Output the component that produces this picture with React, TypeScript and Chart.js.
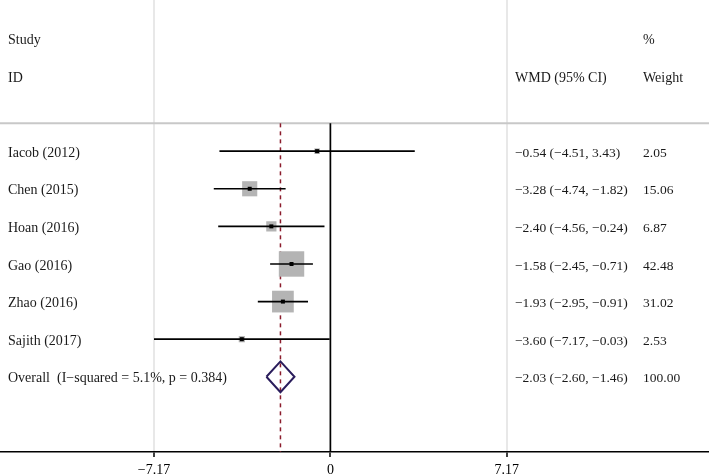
import React, { useEffect, useRef } from "react";
import { Chart, registerables } from "chart.js";

Chart.register(...registerables);

const studies = ["Iacob (2012)", "Chen (2015)", "Hoan (2016)", "Gao (2016)", "Zhao (2016)", "Sajith (2017)"];
const wmd = [-0.54, -3.28, -2.4, -1.58, -1.93, -3.6];
const lower = [-4.51, -4.74, -4.56, -2.45, -2.95, -7.17];
const upper = [3.43, -1.82, -0.24, -0.71, -0.91, -0.03];
const weights = [2.05, 15.06, 6.87, 42.48, 31.02, 2.53];

const overallLabel = "Overall  (I\u2212squared = 5.1%, p = 0.384)";
const overallEst = -2.03;
const overallLo = -2.6;
const overallHi = -1.46;
const overallWeight = 100.0;

const xTicks = [-7.17, 0, 7.17];
const headerStudy = ["Study", "ID"];
const headerEffect = "WMD (95% CI)";
const headerWeight = ["%", "Weight"];

const SERIF = "'Liberation Serif', 'Times New Roman', serif";

const fmt = (v: number) => (v < 0 ? "\u2212" : "") + Math.abs(v).toFixed(2);
const ciText = (e: number, l: number, u: number) => `${fmt(e)} (${fmt(l)}, ${fmt(u)})`;

// layout constants (row coordinates)
const ROW_HEADER1 = -3;
const ROW_HEADER2 = -2;
const ROW_SEP = -0.74;
const ROW_OVERALL = studies.length;
const Y_MIN = -4.02;
const Y_MAX = 8;
const X_MIN = -13.43;
const X_MAX = 15.39;

const textPlugin = {
  id: "forestText",
  afterDatasetsDraw(chart: any) {
    const { ctx, scales } = chart;
    const y = scales.y;
    const yp = (v: number) => y.getPixelForValue(v) + 2;
    ctx.save();
    ctx.fillStyle = "#1a1a1a";
    ctx.textBaseline = "middle";
    ctx.textAlign = "left";
    const colStudy = 8;
    const colEffect = 515;
    const colWeight = 643;
    const labelFont = `14px ${SERIF}`;
    const numFont = `13.5px ${SERIF}`;
    ctx.font = labelFont;
    ctx.fillText(headerStudy[0], colStudy, yp(ROW_HEADER1));
    ctx.fillText(headerStudy[1], colStudy, yp(ROW_HEADER2));
    ctx.fillText(headerWeight[0], colWeight, yp(ROW_HEADER1));
    ctx.fillText(headerEffect, colEffect, yp(ROW_HEADER2));
    ctx.fillText(headerWeight[1], colWeight, yp(ROW_HEADER2));
    studies.forEach((s, i) => {
      const py = yp(i);
      ctx.font = labelFont;
      ctx.fillText(s, colStudy, py);
      ctx.font = numFont;
      ctx.fillText(ciText(wmd[i], lower[i], upper[i]), colEffect, py);
      ctx.fillText(weights[i].toFixed(2), colWeight, py);
    });
    const po = yp(ROW_OVERALL);
    ctx.font = labelFont;
    ctx.fillText(overallLabel, colStudy, po);
    ctx.font = numFont;
    ctx.fillText(ciText(overallEst, overallLo, overallHi), colEffect, po);
    ctx.fillText(overallWeight.toFixed(2), colWeight, po);
    ctx.restore();
  },
};

export default function App() {
  const ref = useRef<HTMLCanvasElement | null>(null);

  useEffect(() => {
    if (!ref.current) return;
    const boxSide = (w: number) => 3.9 * Math.sqrt(w);

    const ciDatasets = studies.map((s, i) => ({
      type: "line" as const,
      label: "ci-" + s,
      data: [
        { x: lower[i], y: i },
        { x: upper[i], y: i },
      ],
      borderColor: "#000000",
      borderWidth: 1.7,
      pointRadius: 0,
      fill: false,
      order: 3,
    }));

    const halfH = 0.41;
    const datasets: any[] = [
      {
        type: "line",
        label: "separator",
        data: [
          { x: X_MIN, y: ROW_SEP },
          { x: X_MAX, y: ROW_SEP },
        ],
        borderColor: "#c8c8c8",
        borderWidth: 2,
        pointRadius: 0,
        order: 10,
      },
      {
        type: "line",
        label: "overall-line",
        data: [
          { x: overallEst, y: ROW_SEP },
          { x: overallEst, y: Y_MAX },
        ],
        borderColor: "#8b1c2c",
        borderWidth: 1.5,
        borderDash: [4, 4],
        pointRadius: 0,
        order: 9,
      },
      {
        type: "scatter",
        label: "boxes",
        data: studies.map((s, i) => ({ x: wmd[i], y: i })),
        pointStyle: "rect",
        pointRadius: (c: any) => boxSide(weights[c.dataIndex] ?? 0) / Math.SQRT2,
        backgroundColor: "#b4b4b4",
        borderWidth: 0,
        borderColor: "rgba(0,0,0,0)",
        order: 5,
      },
      ...ciDatasets,
      {
        type: "scatter",
        label: "points",
        data: studies.map((s, i) => ({ x: wmd[i], y: i })),
        pointStyle: "rect",
        pointRadius: 4 / Math.SQRT2,
        backgroundColor: "#000000",
        borderWidth: 0,
        order: 2,
      },
      {
        type: "line",
        label: "zero",
        data: [
          { x: 0, y: ROW_SEP },
          { x: 0, y: Y_MAX },
        ],
        borderColor: "#000000",
        borderWidth: 1.7,
        pointRadius: 0,
        order: 2,
      },
      {
        type: "line",
        label: "diamond",
        data: [
          { x: overallLo, y: ROW_OVERALL },
          { x: overallEst, y: ROW_OVERALL - halfH },
          { x: overallHi, y: ROW_OVERALL },
          { x: overallEst, y: ROW_OVERALL + halfH },
          { x: overallLo, y: ROW_OVERALL },
        ],
        borderColor: "#2a1d5c",
        borderWidth: 2,
        borderJoinStyle: "miter",
        pointRadius: 0,
        order: 1,
      },
    ];

    const chart = new Chart(ref.current, {
      type: "scatter",
      data: { datasets },
      options: {
        animation: false,
        responsive: true,
        maintainAspectRatio: false,
        layout: { padding: 0, autoPadding: false },
        plugins: { legend: { display: false }, tooltip: { enabled: false } },
        scales: {
          x: {
            type: "linear",
            min: X_MIN,
            max: X_MAX,
            afterBuildTicks: (scale: any) => {
              scale.ticks = xTicks.map((v) => ({ value: v }));
            },
            afterFit: (scale: any) => {
              scale.height = 23;
            },
            ticks: {
              autoSkip: false,
              maxRotation: 0,
              padding: 5,
              color: "#000000",
              font: { family: SERIF, size: 14 },
              callback: (v: any) => {
                const n = Number(v);
                if (n === 0) return "0";
                return (n < 0 ? "\u2212" : "") + Math.abs(n).toFixed(2);
              },
            },
            grid: {
              color: (c: any) => (c.tick && c.tick.value === 0 ? "rgba(0,0,0,0)" : "#e8e8e8"),
              lineWidth: 2,
              drawTicks: true,
              tickLength: 5,
              tickColor: "#000000",
              tickWidth: 1.5,
            },
            border: { display: true, color: "#000000", width: 1.5 },
          },
          y: {
            type: "linear",
            display: false,
            reverse: true,
            min: Y_MIN,
            max: Y_MAX,
          },
        },
      },
      plugins: [textPlugin],
    } as any);

    return () => chart.destroy();
  }, []);

  return (
    <div style={{ position: "fixed", left: 0, top: 0, width: 709, height: 475, background: "#ffffff" }}>
      <canvas ref={ref} />
    </div>
  );
}
